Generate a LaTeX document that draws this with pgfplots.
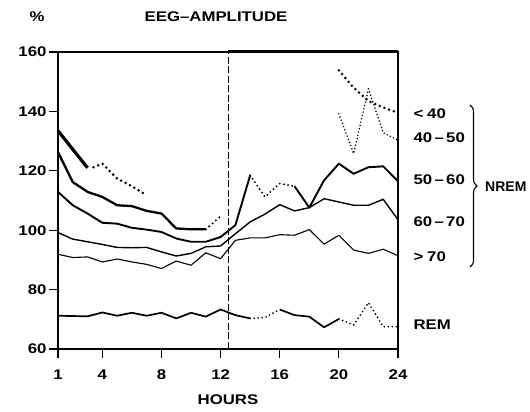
\documentclass[border=0pt]{standalone}
\usepackage{fontspec}
\setmainfont{Liberation Sans}[FakeStretch=1.2]
\newfontfamily\narrowsans{Liberation Sans}
\usepackage{pgfplots}
\pgfplotsset{compat=1.18}
\usetikzlibrary{decorations.pathreplacing}

\newcommand\lbl{\fontsize{14}{16}\selectfont\bfseries}

\pgfplotsset{
  dots/.style 2 args={line width=#1, dash pattern=on 0pt off #2, line cap=round},
}

\begin{document}
\begin{tikzpicture}[x=1pt,y=1pt]
\path[use as bounding box] (-58,-63) rectangle (472,349);
\begin{axis}[
  at={(0pt,0pt)}, anchor=south west,
  scale only axis, width=340pt, height=297pt,
  xmin=1, xmax=24, ymin=60, ymax=160,
  xtick={1,4,8,12,16,20,24},
  ytick={60,80,...,160},
  tick pos=left, tick align=outside,
  major tick length=9pt,
  tick style={line width=1.1pt, black},
  axis line style={line width=1.1pt},
  tick label style={font=\lbl},
  xticklabel style={yshift=-8pt},
  yticklabel style={xshift=1pt},
  /pgf/number format/assume math mode=true,
  clip=false,
  every axis plot/.append style={black, line join=round},
]
% lights-off marker and off-scale segment along the top
\addplot[line width=0.8pt, dash pattern=on 7pt off 2.5pt] coordinates {(12.5,60) (12.5,160)};
\addplot[line width=3pt] coordinates {(12.5,160) (24,160)};

% < 40
\addplot[line width=3.2pt] coordinates {(1,133.5) (2,127.2) (3,121)};
\addplot[dots={2.8pt}{5pt}] coordinates {(3.4,121.2) (4,122.4) (5,117.4) (6,114.8) (7,111.8)};
\addplot[dots={2.8pt}{5pt}] coordinates {(20,153.8) (21,148) (22,143.5) (23,141.3) (24,139.5)};

% 40 - 50
\addplot[line width=2.3pt] coordinates {(1,126.3) (2,116.2) (3,112.9) (4,111.2) (5,108.4) (6,108.1) (7,106.5) (8,105.6) (9,100.6) (10,100.3) (11,100.3)};
\addplot[dots={2.3pt}{4.5pt}] coordinates {(11,100.3) (12,104.7)};
\addplot[dots={1.7pt}{3.4pt}] coordinates {(20,139.2) (21,125.8) (22,147.6) (23,132.8) (24,130.3)};

% 50 - 60
\addplot[line width=1.9pt] coordinates {(1,112.9) (2,108.4) (3,105.6) (4,102.5) (5,102.2) (6,100.8) (7,100.2) (8,99.4) (9,97.2) (10,96.1) (11,96.1) (12,97.7) (13,101.7) (14,118.5)};
\addplot[dots={2.1pt}{4.2pt}] coordinates {(14,118.5) (15,111.2) (16,115.7) (17,114.8)};
\addplot[line width=1.9pt] coordinates {(17,114.8) (18,107.6) (19,116.8) (20,122.4) (21,119) (22,121.2) (23,121.5) (24,116.5)};

% 60 - 70
\addplot[line width=1.4pt] coordinates {(1,99.2) (2,97) (3,96.1) (4,95.2) (5,94.2) (6,94.1) (7,94.2) (8,92.7) (9,91.3) (10,92.2) (11,94.4) (12,94.7) (13,98.8) (14,102.8) (15,105.4) (16,108.6) (17,106.5) (18,107.6) (19,110.6) (20,109.5) (21,108.4) (22,108.4) (23,110.4) (24,103.5)};

% > 70
\addplot[line width=1.1pt] coordinates {(1,91.9) (2,90.8) (3,91) (4,89.3) (5,90.3) (6,89.3) (7,88.5) (8,87.1) (9,89.6) (10,88.2) (11,92.4) (12,90.4) (13,96.6) (14,97.4) (15,97.4) (16,98.5) (17,98.3) (18,100.2) (19,95.3) (20,98.3) (21,93.3) (22,92.2) (23,93.6) (24,91.4)};

% REM
\addplot[line width=1.7pt] coordinates {(1,71.2) (2,71.1) (3,71) (4,72.3) (5,71.2) (6,72.2) (7,71.2) (8,72.2) (9,70.3) (10,72.2) (11,70.9) (12,73.3) (13,71.4) (14,70.3)};
\addplot[dots={1.9pt}{4pt}] coordinates {(14,70.3) (15,70.6) (16,73.3)};
\addplot[line width=1.7pt] coordinates {(16,73.3) (17,71.4) (18,70.9) (19,67.3) (20,70.1)};
\addplot[dots={1.9pt}{4pt}] coordinates {(20,70.1) (21,68.1) (22,75.6) (23,67.5) (24,67.5)};
\end{axis}

% titles and series labels
\node[font=\lbl] at (-21,332) {\%};
\node[font=\lbl] at (158,332) {EEG--AMPLITUDE};
\node[font=\lbl] at (170,-51) {HOURS};

\node[font=\lbl, anchor=west] at (352,235) {<\;40};
\node[font=\lbl, anchor=west] at (352,211) {40\,--\,50};
\node[font=\lbl, anchor=west] at (352,169) {50\,--\,60};
\node[font=\lbl, anchor=west] at (352,127) {60\,--\,70};
\node[font=\lbl, anchor=west] at (352,92) {>\;70};
\node[font=\lbl, anchor=west] at (352,24) {REM};

\draw[line width=1.1pt, decorate, decoration={brace, amplitude=7pt}] (412,244) -- (412,82);
\node[font=\narrowsans\lbl, anchor=west, inner sep=0pt] at (427,162) {NREM};
\end{tikzpicture}
\end{document}
